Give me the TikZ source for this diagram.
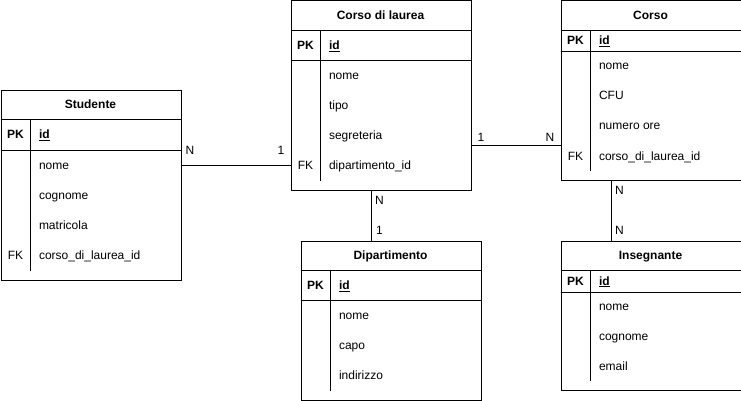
\documentclass[tikz,border=0pt]{standalone}
\usepackage{fontspec}
\setmainfont{Liberation Sans}
\usetikzlibrary{positioning}

\begin{document}
\begin{tikzpicture}[x=1pt,y=-1pt,line width=1pt,
  tbl/.style={draw,minimum width=180pt,inner sep=0pt,anchor=north west},
  ttl/.style={font=\fontsize{12}{14}\selectfont\bfseries,inner sep=0pt,anchor=base},
  key/.style={font=\fontsize{12}{14}\selectfont,inner sep=0pt,anchor=base},
  pk/.style={key,font=\fontsize{12}{14}\selectfont\bfseries},
  fld/.style={font=\fontsize{12}{14}\selectfont,inner sep=0pt,anchor=base west},
  idf/.style={fld,font=\fontsize{12}{14}\selectfont\bfseries},
  card/.style={font=\fontsize{12}{14}\selectfont,inner sep=0pt,anchor=base}
]
\useasboundingbox (0,0) rectangle (741,401);

% ---- Studente -----------------------------------------------
\node[tbl,minimum height=190pt] (stud) at (0.5,90) {};
\draw ([yshift=-30pt]stud.north west) -- ([yshift=-30pt]stud.north east);
\draw ([yshift=-60pt]stud.north west) -- ([yshift=-60pt]stud.north east);
\draw ([xshift=30pt,yshift=-30pt]stud.north west) -- ([xshift=30pt,yshift=10pt]stud.south west);
\node[ttl] (stud-t) at (90.5,109) {Studente};
\node[pk] (stud-pk) at (15.5,139) {PK};
\node[idf] (stud-id) at (38.5,139) {\underline{id}};
\node[fld] (stud-nome) at (38.5,169) {nome};
\node[fld] (stud-cogn) at (38.5,199) {cognome};
\node[fld] (stud-matr) at (38.5,229) {matricola};
\node[key] (stud-fk) at (15.5,259) {FK};
\node[fld] (stud-cdl) at (38.5,259) {corso\_di\_laurea\_id};

% ---- Corso di laurea ----------------------------------------
\node[tbl,minimum height=189.5pt] (cdl) at (290.5,0.5) {};
\draw ([yshift=-30pt]cdl.north west) -- ([yshift=-30pt]cdl.north east);
\draw ([yshift=-60pt]cdl.north west) -- ([yshift=-60pt]cdl.north east);
\draw ([xshift=30pt,yshift=-30pt]cdl.north west) -- ([xshift=30pt,yshift=10pt]cdl.south west);
\node[ttl] (cdl-t) at (380.5,19.5) {Corso di laurea};
\node[pk] (cdl-pk) at (305.5,49.5) {PK};
\node[idf] (cdl-id) at (328.5,49.5) {\underline{id}};
\node[fld] (cdl-nome) at (328.5,79.5) {nome};
\node[fld] (cdl-tipo) at (328.5,109.5) {tipo};
\node[fld] (cdl-segr) at (328.5,139.5) {segreteria};
\node[key] (cdl-fk) at (305.5,169.5) {FK};
\node[fld] (cdl-dip) at (328.5,169.5) {dipartimento\_id};

% ---- Corso --------------------------------------------------
\node[tbl,minimum height=179.5pt] (corso) at (560.5,0.5) {};
\draw ([yshift=-30pt]corso.north west) -- ([yshift=-30pt]corso.north east);
\draw ([yshift=-51.5pt]corso.north west) -- ([yshift=-51.5pt]corso.north east);
\draw ([xshift=30pt,yshift=-30pt]corso.north west) -- ([xshift=30pt,yshift=10pt]corso.south west);
\node[ttl] (corso-t) at (650.5,20) {Corso};
\node[pk] (corso-pk) at (575.5,45) {PK};
\node[idf] (corso-id) at (598.5,45) {\underline{id}};
\node[fld] (corso-nome) at (598.5,70) {nome};
\node[fld] (corso-cfu) at (598.5,100) {CFU};
\node[fld] (corso-ore) at (598.5,130) {numero ore};
\node[key] (corso-fk) at (575.5,160) {FK};
\node[fld] (corso-cdl) at (598.5,160) {corso\_di\_laurea\_id};

% ---- Dipartimento -------------------------------------------
\node[tbl,minimum height=159pt] (dip) at (300.5,240.5) {};
\draw ([yshift=-30pt]dip.north west) -- ([yshift=-30pt]dip.north east);
\draw ([yshift=-60pt]dip.north west) -- ([yshift=-60pt]dip.north east);
\draw ([xshift=30pt,yshift=-30pt]dip.north west) -- ([xshift=30pt,yshift=10pt]dip.south west);
\node[ttl] (dip-t) at (390.5,259.5) {Dipartimento};
\node[pk] (dip-pk) at (315.5,289.5) {PK};
\node[idf] (dip-id) at (338.5,289.5) {\underline{id}};
\node[fld] (dip-nome) at (338.5,319.5) {nome};
\node[fld] (dip-capo) at (338.5,349.5) {capo};
\node[fld] (dip-ind) at (338.5,379.5) {indirizzo};

% ---- Insegnante ---------------------------------------------
\node[tbl,minimum height=149.5pt] (ins) at (560.5,240.5) {};
\draw ([yshift=-30pt]ins.north west) -- ([yshift=-30pt]ins.north east);
\draw ([yshift=-51.5pt]ins.north west) -- ([yshift=-51.5pt]ins.north east);
\draw ([xshift=30pt,yshift=-30pt]ins.north west) -- ([xshift=30pt,yshift=10pt]ins.south west);
\node[ttl] (ins-t) at (650.5,259.5) {Insegnante};
\node[pk] (ins-pk) at (575.5,285) {PK};
\node[idf] (ins-id) at (598.5,285) {\underline{id}};
\node[fld] (ins-nome) at (598.5,310) {nome};
\node[fld] (ins-cogn) at (598.5,340) {cognome};
\node[fld] (ins-mail) at (598.5,370) {email};

% ---- Relations ----------------------------------------------
\coordinate (j1) at ([yshift=20pt]stud.east);
\coordinate (j2) at ([yshift=-50pt]cdl.east);
\coordinate (j3) at ([xshift=-10pt]cdl.south);
\coordinate (j4) at ([xshift=-40pt]corso.south);
\draw (j1) -- (j1 -| cdl.west);
\draw (j2) -- (j2 -| corso.west);
\draw (j3) -- (j3 |- dip.north);
\draw (j4) -- (j4 |- ins.north);

\node[card] (c1a) at (190,154.5) {N};
\node[card] (c1b) at (281,154.5) {1};
\node[card] (c2a) at (481,141) {1};
\node[card] (c2b) at (550,141) {N};
\node[card] (c3a) at (379.5,204.5) {N};
\node[card] (c3b) at (379.5,234) {1};
\node[card] (c4a) at (619.5,194) {N};
\node[card] (c4b) at (619.5,234) {N};

\end{tikzpicture}
\end{document}
